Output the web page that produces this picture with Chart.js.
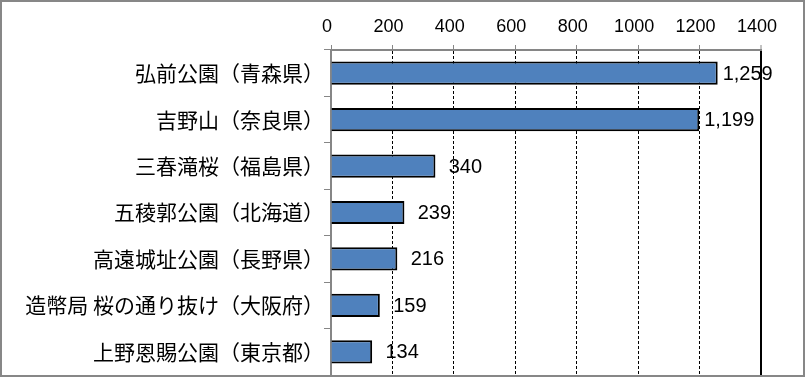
<!DOCTYPE html>
<html>
<head>
<meta charset="utf-8">
<script src="https://cdn.jsdelivr.net/npm/chart.js@4"></script>
<style>
  html, body { margin: 0; padding: 0; background: #fff; }
  canvas { display: block; }
</style>
</head>
<body>
<canvas id="chart" width="805" height="377"></canvas>
<script>
// Data
const categories = [
    '弘前公園（青森県）',
    '吉野山（奈良県）',
    '三春滝桜（福島県）',
    '五稜郭公園（北海道）',
    '高遠城址公園（長野県）',
    '造幣局 桜の通り抜け（大阪府）',
    '上野恩賜公園（東京都）'
];
const values = [1259, 1199, 340, 239, 216, 159, 134];
const axisMin = 0;
const axisMax = 1400;
const axisStep = 200;

// Value labels after each bar
const barLabels = {
    id: 'barLabels',
    afterDatasetsDraw(chart) {
        const ctx = chart.ctx;
        const meta = chart.getDatasetMeta(0);
        ctx.save();
        ctx.font = '20px "Liberation Sans", Arial, sans-serif';
        ctx.fillStyle = '#000';
        ctx.textAlign = 'center';
        ctx.textBaseline = 'middle';
        meta.data.forEach((bar, i) => {
            ctx.fillText(values[i].toLocaleString('en-US'), bar.x + 30, bar.y + 1);
        });
        ctx.restore();
    }
};

// White background and grey frame round the whole picture
const outerFrame = {
    id: 'outerFrame',
    beforeDraw(chart) {
        const ctx = chart.ctx;
        ctx.save();
        ctx.fillStyle = '#fff';
        ctx.fillRect(0, 0, chart.width, chart.height);
        ctx.restore();
    },
    afterDraw(chart) {
        const ctx = chart.ctx;
        ctx.save();
        ctx.strokeStyle = '#878787';
        ctx.lineWidth = 2;
        ctx.strokeRect(1, 1, chart.width - 2, chart.height - 2);
        ctx.restore();
    }
};

const lastTick = (axisMax - axisMin) / axisStep;

const ctx = document.getElementById('chart').getContext('2d');
new Chart(ctx, {
    type: 'bar',
    data: {
        labels: categories,
        datasets: [{
            data: values,
            backgroundColor: '#4F81BD',
            borderColor: '#000',
            borderWidth: 2,
            barPercentage: 0.5,
            categoryPercentage: 1
        }]
    },
    options: {
        indexAxis: 'y',
        responsive: false,
        animation: false,
        layout: {
            padding: { left: 0, right: 44, top: 0, bottom: 2 }
        },
        plugins: {
            legend: { display: false },
            tooltip: { enabled: false }
        },
        scales: {
            x: {
                position: 'top',
                min: axisMin,
                max: axisMax,
                afterFit(scale) { scale.height = 50; },
                ticks: {
                    stepSize: axisStep,
                    padding: 7,
                    labelOffset: -4,
                    color: '#000',
                    font: { family: '"Liberation Sans", Arial, sans-serif', size: 18 },
                    callback: v => String(v)
                },
                grid: {
                    color: c => c.index === 0 ? 'rgba(0,0,0,0)' : '#000',
                    lineWidth: c => c.index === lastTick ? 2 : 1,
                    tickColor: '#868686',
                    tickLength: 5,
                    tickWidth: 1
                },
                border: {
                    color: '#868686',
                    width: 2,
                    dash: c => c.index === lastTick ? [] : [3, 2]
                }
            },
            y: {
                afterFit(scale) {
                    scale.width = 331;
                    scale.paddingTop = 0;
                    scale.paddingBottom = 0;
                },
                ticks: {
                    padding: 0,
                    color: '#000',
                    font: { family: '"Noto Sans CJK JP", sans-serif', size: 21 }
                },
                grid: {
                    drawOnChartArea: false,
                    tickColor: '#868686',
                    tickLength: 7,
                    tickWidth: 1
                },
                border: {
                    color: '#868686',
                    width: 2
                }
            }
        }
    },
    plugins: [outerFrame, barLabels]
});
</script>
</body>
</html>
